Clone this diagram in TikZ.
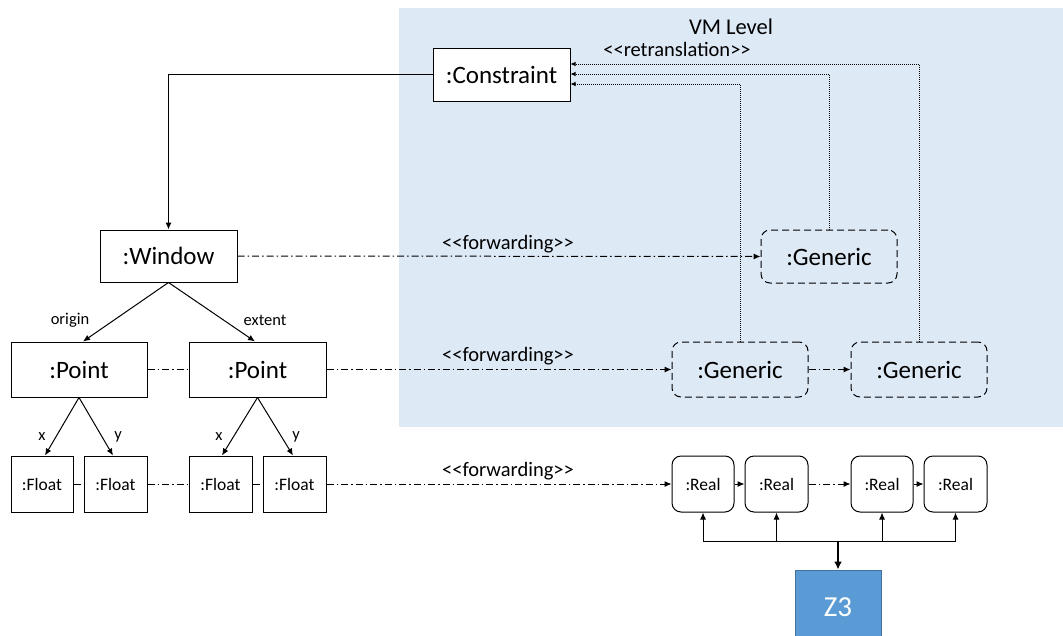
\documentclass[tikz,border=0pt]{standalone}
\usepackage{fontspec}
\setmainfont{Carlito}
\usetikzlibrary{arrows.meta,calc}
\definecolor{vmbg}{RGB}{222,233,246}
\definecolor{zfill}{RGB}{91,155,213}
\definecolor{zdraw}{RGB}{65,113,156}
\newcommand{\stlt}{{<}{<}}
\newcommand{\stgt}{{>}{>}}
\tikzset{
  objbox/.style={draw, line width=1pt, fill=white, inner sep=0pt, font=\fontsize{25}{29}\selectfont},
  genbox/.style={draw, line width=1pt, rounded corners=9pt, dash pattern=on 7pt off 4pt, inner sep=0pt, font=\fontsize{25}{29}\selectfont},
  leafbox/.style={draw, line width=1pt, fill=white, inner sep=0pt, minimum width=62pt, minimum height=56pt, font=\fontsize{17.5}{20}\selectfont},
  realbox/.style={leafbox, rounded corners=9pt},
  tip/.style={-{Latex[length=7pt,width=6pt]}},
  smalltip/.style={-{Latex[length=5pt,width=4.5pt]}},
  link/.style={line width=1pt},
  fwd/.style={line width=1pt, dash pattern=on 7pt off 3pt on 1.5pt off 3pt},
  retr/.style={line width=0.8pt, dash pattern=on 1pt off 1pt},
  stereo/.style={font=\fontsize{20.5}{23}\selectfont},
  role/.style={font=\fontsize{16.5}{19}\selectfont},
}
\begin{document}
\begin{tikzpicture}[x=1pt,y=-1pt]
\useasboundingbox (0,0) rectangle (1063,635);
% VM level area
\fill[vmbg] (399,8) rectangle (1063,427);
\node[font=\fontsize{22.5}{26}\selectfont] (vmlevel) at (731,27) {VM Level};
\node[stereo] (retrlabel) at (677,49) {\stlt retranslation\stgt};

% application objects
\node[objbox, minimum width=137pt, minimum height=53pt] (cons) at (501.5,74.5) {:Constraint};
\node[objbox, minimum width=137pt, minimum height=52pt] (win) at (168.5,256) {:Window};
\node[objbox, minimum width=136pt, minimum height=55pt] (p1) at (79,369.5) {:Point};
\node[objbox, minimum width=137pt, minimum height=55pt] (p2) at (257.5,369.5) {:Point};
\node[leafbox] (f1) at (42,484) {:Float};
\node[leafbox, minimum width=63pt] (f2) at (115.5,484) {:Float};
\node[leafbox, minimum width=63pt] (f3) at (220.5,484) {:Float};
\node[leafbox, minimum width=63pt] (f4) at (294.5,484) {:Float};

% VM objects
\node[genbox, minimum width=136pt, minimum height=53pt] (g1) at (829,256.5) {:Generic};
\node[genbox, minimum width=136pt, minimum height=55pt] (g2) at (740,369.5) {:Generic};
\node[genbox, minimum width=136pt, minimum height=55pt] (g3) at (919,369.5) {:Generic};

% solver objects
\node[realbox] (r1) at (703,484) {:Real};
\node[realbox, minimum width=63pt] (r2) at (776.5,484) {:Real};
\node[realbox] (r3) at (882,484) {:Real};
\node[realbox, minimum width=63pt] (r4) at (955.5,484) {:Real};
\node[draw=zdraw, fill=zfill, line width=1pt, minimum width=86pt, minimum height=74pt, inner sep=0pt,
      text=white, font=\fontsize{29}{34}\selectfont] (z3) at (838,607) {Z3};

% structure
\draw[link, tip] (cons.west) -| (win.north);
\draw[link, tip] (win.south) -- ([xshift=4pt]p1.north);
\draw[link, tip] (win.south) -- ([xshift=-2.5pt]p2.north);
\node[role] (lorigin) at (70,320) {origin};
\node[role] (lextent) at (265,320) {extent};
\draw[link, tip] (p1.south) -- ([xshift=3pt]f1.north);
\draw[link, tip] (p1.south) -- ([xshift=-2.5pt]f2.north);
\draw[link, tip] (p2.south) -- ([xshift=1.5pt]f3.north);
\draw[link, tip] (p2.south) -- ([xshift=-1.5pt]f4.north);
\node[role] (lx1) at (42,437) {x};
\node[role] (ly1) at (118,437) {y};
\node[role] (lx2) at (219,437) {x};
\node[role] (ly2) at (296,437) {y};

% forwarding
\draw[fwd, tip] (win.east) -- (g1.west);
\node[stereo] (fwd1) at (508,244) {\stlt forwarding\stgt};
\draw[fwd] (p1.east) -- (p2.west);
\draw[fwd, tip] (p2.east) -- (g2.west);
\node[stereo] (fwd2) at (508,356) {\stlt forwarding\stgt};
\draw[fwd, tip] (g2.east) -- (g3.west);
\draw[fwd] (f1.east) -- (f2.west);
\draw[fwd] (f2.east) -- (f3.west);
\draw[fwd] (f3.east) -- (f4.west);
\draw[fwd, tip] (f4.east) -- (r1.west);
\node[stereo] (fwd3) at (508,471) {\stlt forwarding\stgt};
\draw[link, tip] (r1.east) -- (r2.west);
\draw[fwd, tip] (r2.east) -- (r3.west);
\draw[link, tip] (r3.east) -- (r4.west);

% retranslation
\draw[retr, smalltip] (g3.north) |- ([yshift=10.5pt]cons.east);
\draw[retr, smalltip] (g1.north) |- ([yshift=0.5pt]cons.east);
\draw[retr, smalltip] (g2.north) |- ([yshift=-9.5pt]cons.east);

% solver bus
\coordinate (bus) at (838,541);
\draw[link] (r1.south |- bus) -- (r4.south |- bus);
\draw[link, tip] (r1.south |- bus) -- (r1.south);
\draw[link, tip] (r2.south |- bus) -- (r2.south);
\draw[link, tip] (r3.south |- bus) -- (r3.south);
\draw[link, tip] (r4.south |- bus) -- (r4.south);
\draw[line width=2pt, -{Latex[length=8pt,width=8pt]}] (bus) -- (z3.north);
\end{tikzpicture}
\end{document}
